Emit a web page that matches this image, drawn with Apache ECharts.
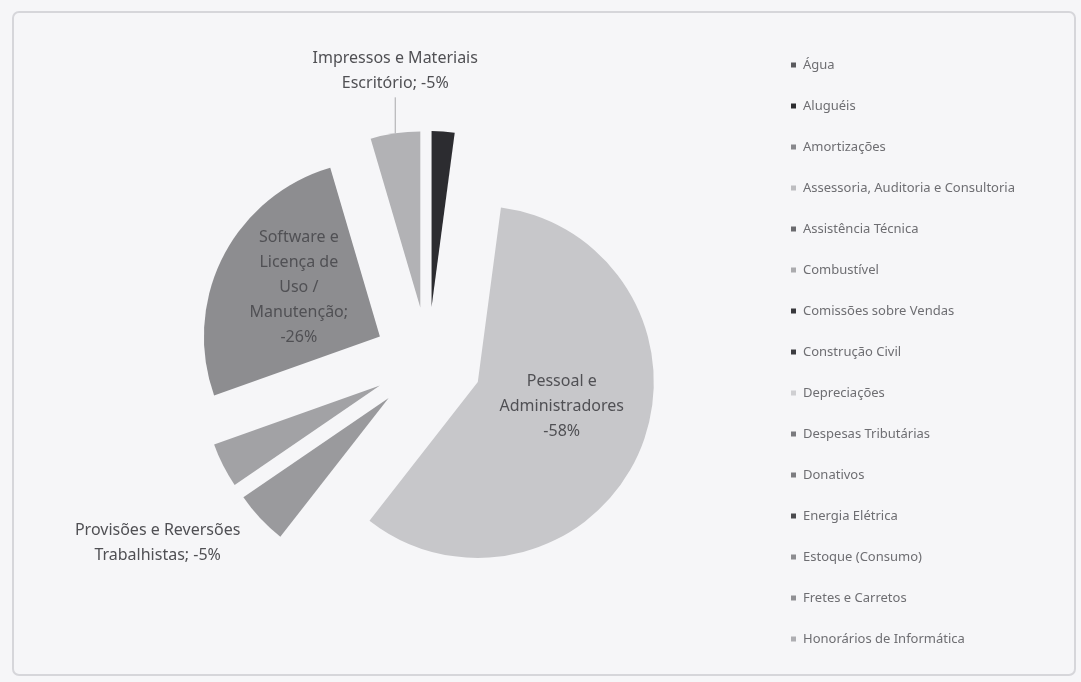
<!DOCTYPE html>
<html>
<head>
<meta charset="utf-8">
<script src="https://cdn.jsdelivr.net/npm/echarts@6/dist/echarts.min.js"></script>
<style>
  html, body { margin: 0; padding: 0; background: #f6f6f8; }
  #chart { width: 1081px; height: 682px; }
</style>
</head>
<body>
<div id="chart"></div>
<script>
// categorias na ordem da pizza (sentido horário a partir das 12h)
const categories = [
  "Água",
  "Aluguéis",
  "Amortizações",
  "Assessoria, Auditoria e Consultoria",
  "Assistência Técnica",
  "Combustível",
  "Comissões sobre Vendas",
  "Construção Civil",
  "Depreciações",
  "Despesas Tributárias",
  "Donativos",
  "Energia Elétrica",
  "Estoque (Consumo)",
  "Fretes e Carretos",
  "Honorários de Informática",
  "Pessoal e Administradores",
  "Provisões e Reversões Trabalhistas",
  "Outras Despesas",
  "Software e Licença de Uso / Manutenção",
  "Impressos e Materiais Escritório",
];

// participação de cada despesa (% do total, negativa)
const values = [
  0, -2.1, 0, 0, 0, 0, 0, 0, 0, 0,
  0, 0, 0, 0, 0,
  -58.45, -4.9, -4.1, -25.9, -4.55,
];

// tons de cinza de cada fatia
const colors = [
  "#5a5a5e", "#2c2c30", "#88888c", "#bdbdc0", "#6a6a6e",
  "#ababae", "#38383c", "#3c3c40", "#cfcfd2", "#7a7a7e",
  "#7c7c80", "#4a4a4e", "#8c8c90", "#909094", "#aeaeb2",
  "#c7c7ca", "#9a9a9d", "#a2a2a5", "#8d8d90", "#b2b2b5",
];

// itens que aparecem na legenda (a legenda do original é cortada)
const legendNames = categories.slice(0, 15);

// textos dos rótulos visíveis
const labelText = {
  "Pessoal e Administradores": "Pessoal e\nAdministradores\n-{p}%",
  "Software e Licença de Uso / Manutenção": "Software e\nLicença de\nUso /\nManutenção;\n-{p}%",
  "Provisões e Reversões Trabalhistas": "Provisões e Reversões\nTrabalhistas; -{p}%",
  "Impressos e Materiais Escritório": "Impressos e Materiais\nEscritório; -{p}%",
};
const insideLabels = ["Pessoal e Administradores", "Software e Licença de Uso / Manutenção"];

const chart = echarts.init(document.getElementById("chart"));

const data = categories.map((name, i) => {
  const item = {
    name: name,
    value: Math.abs(values[i]),
    selected: true,
    itemStyle: { color: colors[i] },
  };
  if (labelText[name]) {
    const inside = insideLabels.includes(name);
    item.label = {
      show: true,
      position: inside ? "inside" : "outside",
    };
    item.labelLine = {
      show: name === "Impressos e Materiais Escritório",
      length: 36,
      length2: 0,
      lineStyle: { color: "#a8a8ac", width: 1 },
    };
  } else {
    item.label = { show: false };
    item.labelLine = { show: false };
  }
  return item;
});

const option = {
  backgroundColor: "#f6f6f8",
  animation: false,
  textStyle: { fontFamily: "Noto Sans" },
  graphic: [
    {
      type: "rect",
      shape: { x: 13, y: 12, width: 1062, height: 663, r: 6 },
      style: { fill: "none", stroke: "#d6d6da", lineWidth: 2 },
      silent: true,
    },
  ],
  legend: {
    data: legendNames,
    orient: "vertical",
    left: 786,
    top: 52,
    icon: "rect",
    itemWidth: 5,
    itemHeight: 5,
    itemGap: 25,
    selectedMode: false,
    textStyle: {
      fontFamily: "Noto Sans",
      fontSize: 13,
      color: "#6e6e72",
      lineHeight: 16,
      padding: [0, 0, 0, 2],
    },
  },
  series: [
    {
      type: "pie",
      center: [428, 361],
      radius: 176,
      startAngle: 90,
      clockwise: true,
      selectedMode: "multiple",
      selectedOffset: 54,
      avoidLabelOverlap: false,
      emphasis: { disabled: true },
      label: {
        fontFamily: "Noto Sans",
        fontSize: 16,
        lineHeight: 25,
        color: "#505054",
        formatter: (p) => (labelText[p.name] || "").replace("{p}", Math.round(p.percent)),
      },
      labelLayout: (params) => {
        const name = categories[params.dataIndex];
        const r = params.labelRect;
        // rótulos externos: alinhados ao centro (o texto vem alinhado à direita)
        if (name === "Provisões e Reversões Trabalhistas") {
          return {
            dx: 197 - (r.x + r.width),
            dy: 506 - (r.y + r.height / 2),
            align: "center",
          };
        }
        if (name === "Impressos e Materiais Escritório" && params.labelLinePoints) {
          // linha vertical curta a partir da borda da fatia, texto logo acima
          const p0 = params.labelLinePoints[0];
          const top = [p0[0], p0[1] - 36];
          return {
            dx: p0[0] - (r.x + r.width),
            dy: top[1] - 26 - (r.y + r.height / 2),
            align: "center",
            labelLinePoints: [p0, top, top],
          };
        }
        if (insideLabels.includes(name)) {
          return { dy: name === "Pessoal e Administradores" ? -11 : -8 };
        }
        return {};
      },
      data: data,
    },
  ],
};

chart.setOption(option);
</script>
</body>
</html>
